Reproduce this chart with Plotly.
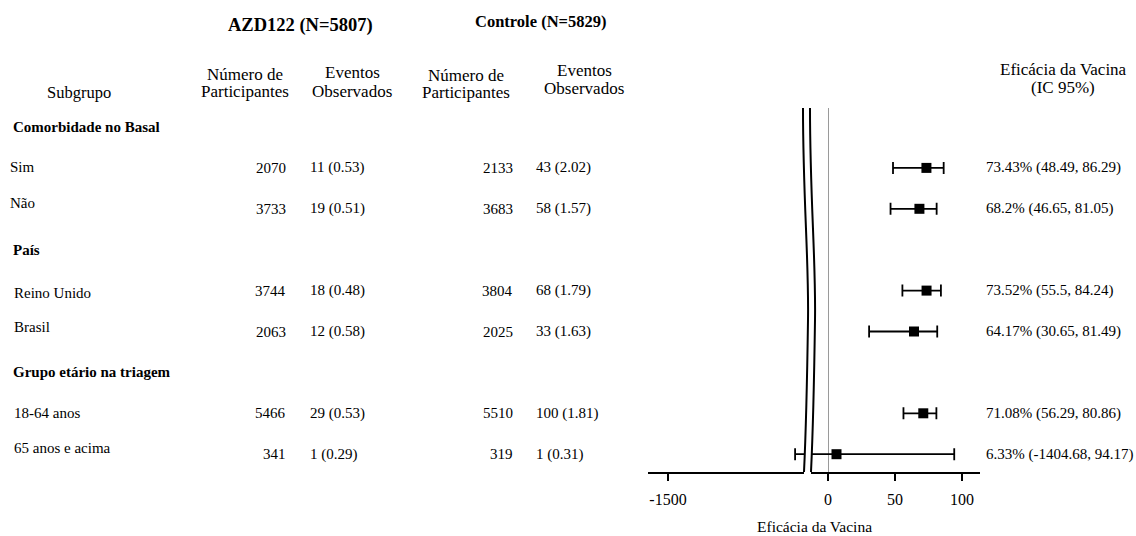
import plotly.graph_objects as go

# ---------------- data ----------------
groups = ["Comorbidade no Basal", "País", "Grupo etário na triagem"]
subgroups = ["Sim", "Não", "Reino Unido", "Brasil", "18-64 anos", "65 anos e acima"]
subgroup_group = [0, 0, 1, 1, 2, 2]
azd_n = [2070, 3733, 3744, 2063, 5466, 341]
azd_events = [11, 19, 18, 12, 29, 1]
azd_pct = [0.53, 0.51, 0.48, 0.58, 0.53, 0.29]
ctl_n = [2133, 3683, 3804, 2025, 5510, 319]
ctl_events = [43, 58, 68, 33, 100, 1]
ctl_pct = [2.02, 1.57, 1.79, 1.63, 1.81, 0.31]
ve = [73.43, 68.2, 73.52, 64.17, 71.08, 6.33]
ve_lo = [48.49, 46.65, 55.5, 30.65, 56.29, -1404.68]
ve_hi = [86.29, 81.05, 84.24, 81.49, 80.86, 94.17]
right_ticks = [0, 50, 100]
left_ticks = [-1500]
azd_title = "AZD122 (N=5807)"
ctl_title = "Controle (N=5829)"

# ---------------- layout constants (pixels) ----------------
W, H = 1136, 536
FONT = "Liberation Serif, Times New Roman, serif"
ROW0_PX, ROW_STEP = 127, 40.9
AX_TOP, AX_BOT = 108, 472
L_DOM = (648, 804)
R_DOM = (811, 980)
R_RANGE = [-12.7, 113.4]
L_RANGE = [-1515.0, -1398.0]
# small vertical offsets of subgroup labels vs. their numbers (as in the reference)
LABEL_SHIFT = [1, 6, -2, 5, 0, 6]
LABEL_X = [8, 8, 12, 12, 12, 12]


def px(x):
    return x / W


def py(y):
    return 1 - y / H


# row indices: group headers interleaved with subgroups
row_of_sub = []
row_of_group = []
r = 0
for gi in range(len(groups)):
    row_of_group.append(r)
    r += 1
    for si, g in enumerate(subgroup_group):
        if g == gi:
            row_of_sub.append(r)
            r += 1

y_range = [(AX_BOT - ROW0_PX) / ROW_STEP, (AX_TOP - ROW0_PX) / ROW_STEP]

fig = go.Figure()

err = dict(type="data", symmetric=False,
           array=[h - v for h, v in zip(ve_hi, ve)],
           arrayminus=[v - l for v, l in zip(ve, ve_lo)],
           color="black", thickness=1.8, width=6)

for xa in ["x", "x2"]:
    fig.add_trace(go.Scatter(
        x=ve, y=row_of_sub, mode="markers", xaxis=xa, yaxis="y",
        marker=dict(symbol="square", size=10, color="black"),
        error_x=err, showlegend=False, hoverinfo="skip"))

ann = []


def text(x, y, s, anchor="left", size=15, yref="y", bold=False):
    ann.append(dict(x=px(x), xref="paper", y=y, yref=yref, text=(f"<b>{s}</b>" if bold else s),
                    xanchor=anchor, yanchor="middle", showarrow=False,
                    font=dict(family=FONT, size=size, color="black")))


# headers
text(300, py(26), azd_title, "center", 18.5, "paper", True)
text(540, py(22), ctl_title, "center", 16.5, "paper", True)
text(79, py(93), "Subgrupo", "center", 16.5, "paper")
for cx, y1, l1, l2 in [(245, 74, "Número de", "Participantes"),
                       (352, 73, "Eventos", "Observados"),
                       (466, 75, "Número de", "Participantes"),
                       (584, 70, "Eventos", "Observados"),
                       (1063, 69, "Eficácia da Vacina", "(IC 95%)")]:
    text(cx, py(y1), l1, "center", 17, "paper")
    text(cx, py(y1 + 18), l2, "center", 17, "paper")

for gi, g in enumerate(groups):
    text(11, row_of_group[gi], g, "left", 15, bold=True)

for i, s in enumerate(subgroups):
    yr = row_of_sub[i]
    ann.append(dict(x=px(LABEL_X[i]), xref="paper", y=yr, yref="y", text=s,
                    xanchor="left", yanchor="middle", showarrow=False,
                    yshift=LABEL_SHIFT[i],
                    font=dict(family=FONT, size=15, color="black")))
    text(288, yr, f"{azd_n[i]}", "right")
    text(308, yr, f"{azd_events[i]} ({azd_pct[i]:g})", "left")
    text(515, yr, f"{ctl_n[i]}", "right")
    text(534, yr, f"{ctl_events[i]} ({ctl_pct[i]:g})", "left")
    text(984, yr, f"{ve[i]:g}% ({ve_lo[i]:g}, {ve_hi[i]:g})", "left")

text((L_DOM[0] + R_DOM[1]) / 2, py(526), "Eficácia da Vacina", "center", 15.5, "paper")


# axis break marks
def path(points):
    p0 = points[0]
    s = f"M {px(p0[0])},{py(p0[1])}"
    rest = points[1:]
    for k in range(0, len(rest), 3):
        c = rest[k:k + 3]
        s += " C " + " ".join(f"{px(a)},{py(b)}" for a, b in c)
    return s


shapes = []
for dx in [0, 7]:
    pts = [(803 + dx, AX_TOP), (803 + dx, 200), (809 + dx, 260), (808 + dx, 320),
           (807 + dx, 390), (806 + dx, 430), (804 + dx, AX_BOT)]
    shapes.append(dict(type="path", xref="paper", yref="paper", path=path(pts),
                       line=dict(color="black", width=2)))

axis_common = dict(showline=True, linecolor="black", linewidth=2, ticks="outside",
                   ticklen=7, tickwidth=1.5, tickcolor="black", showgrid=False,
                   tickfont=dict(family=FONT, size=16, color="black"),
                   ticklabelstandoff=5, anchor="y", fixedrange=True)

fig.update_layout(
    width=W, height=H, margin=dict(l=0, r=0, t=0, b=0),
    paper_bgcolor="white", plot_bgcolor="white",
    xaxis=dict(domain=[px(R_DOM[0]), px(R_DOM[1])], range=R_RANGE, tickvals=right_ticks,
               ticktext=[str(v) for v in right_ticks],
               zeroline=True, zerolinecolor="#9a9a9a", zerolinewidth=1.2, **axis_common),
    xaxis2=dict(domain=[px(L_DOM[0]), px(L_DOM[1])], range=L_RANGE, tickvals=left_ticks,
                ticktext=[str(v) for v in left_ticks],
                zeroline=False, **axis_common),
    yaxis=dict(domain=[py(AX_BOT), py(AX_TOP)], range=y_range, visible=False,
               fixedrange=True, anchor="x"),
    annotations=ann, shapes=shapes, showlegend=False,
)

fig.write_html("out.html", config={"displayModeBar": False},
               post_script="document.body.style.margin='0';document.body.style.overflow='hidden';")
